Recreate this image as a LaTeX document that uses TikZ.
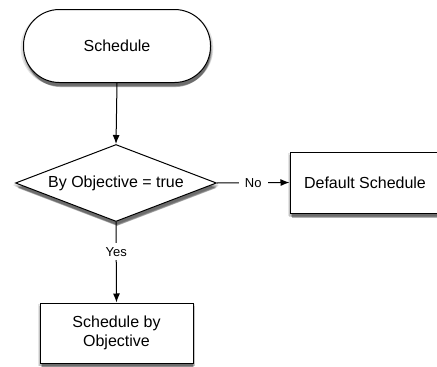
\documentclass[tikz,border=0pt]{standalone}
\usepackage{fontspec}
\setmainfont{Liberation Sans}
\usetikzlibrary{shapes.geometric,shadows,arrows.meta}
\begin{document}
\begin{tikzpicture}[x=1pt,y=-1pt,
  softshadow/.style={
    general shadow={fill=black, opacity=0.10, shadow xshift=0pt, shadow yshift=-2pt, shadow scale=1.03},
    general shadow={fill=black, opacity=0.15, shadow xshift=0.5pt, shadow yshift=-3pt, shadow scale=1.015},
    general shadow={fill=black, opacity=0.20, shadow xshift=1pt, shadow yshift=-4pt},
    general shadow={fill=black, opacity=0.30, shadow xshift=1pt, shadow yshift=-5pt, shadow scale=0.99}},
  base/.style={draw=black, line width=1pt, fill=white, font=\fontsize{16}{19}\selectfont, softshadow},
  term/.style={base, rectangle, rounded corners=36pt, minimum width=187pt, minimum height=73pt},
  dec/.style={base, diamond, aspect=2.6, inner sep=0pt, minimum width=201pt, minimum height=77pt},
  proc/.style={base, rectangle, align=center, inner sep=0pt},
  conn/.style={line width=1pt, -{Latex[length=9pt,width=7pt]}},
  lbl/.style={fill=white, inner xsep=6pt, inner ysep=4pt, font=\fontsize{13}{15}\selectfont}]
\useasboundingbox (0,0) rectangle (437,367);
\clip (0,0) rectangle (437,367);
\node[term] (start) at (117,46) {Schedule};
\node[dec] (dec) at (116,183) {By Objective = true};
\node[proc, minimum width=150pt, minimum height=61pt] (def) at (365,182.5) {Default Schedule};
\node[proc, minimum width=153pt, minimum height=60pt] (obj) at (116.5,333) {Schedule by\\Objective};
\draw[conn] (start.south) -- (dec.north);
\draw[conn] (dec.east) -- node[lbl]{No} (def.west);
\draw[conn] (dec.south) -- node[lbl, pos=0.37]{Yes} (obj.north);
\end{tikzpicture}
\end{document}
